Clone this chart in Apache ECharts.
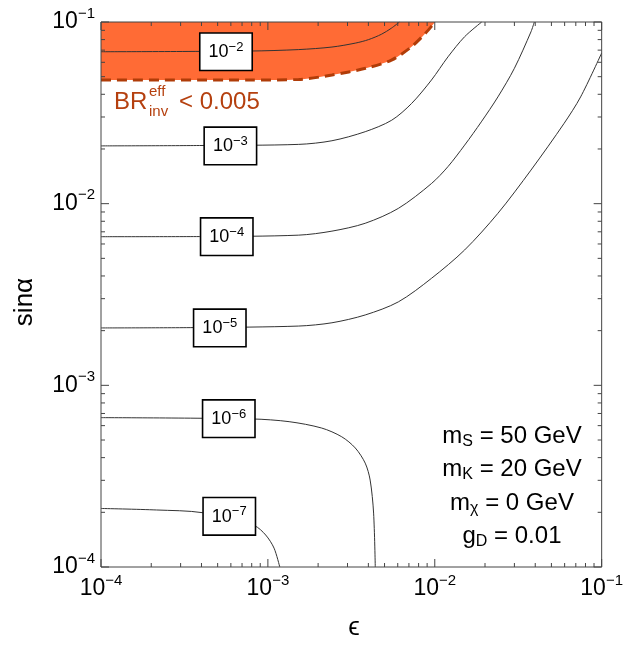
<!DOCTYPE html>
<html>
<head>
<meta charset="utf-8">
<script src="https://cdn.jsdelivr.net/npm/echarts@6/dist/echarts.min.js"></script>
<style>
html,body{margin:0;padding:0;background:#fff}
#chart{width:626px;height:645px}
</style>
</head>
<body>
<div id="chart"></div>
<script>
// 坐标轴范围与刻度
var axisMin = 1e-4, axisMax = 1e-1
var majorTicks = [1e-4, 1e-3, 1e-2, 1e-1]
var minorTicks = [2e-4, 3e-4, 4e-4, 5e-4, 6e-4, 7e-4, 8e-4, 9e-4,
  2e-3, 3e-3, 4e-3, 5e-3, 6e-3, 7e-3, 8e-3, 9e-3,
  2e-2, 3e-2, 4e-2, 5e-2, 6e-2, 7e-2, 8e-2, 9e-2]

// BR_inv^eff = 0.005 边界 (阴影区在其上方)
var bndEps = [1e-4, 7.73e-4, 1.53e-3, 2.42e-3, 3.85e-3, 5.50e-3, 7.23e-3, 8.77e-3, 1.005e-2]
var bndSin = [0.0479, 0.0479, 0.0483, 0.0511, 0.0556, 0.0617, 0.0729, 0.0865, 0.1]

// 等值线
var c2Eps = [1e-4, 7.73e-4, 1.53e-3, 2.42e-3, 3.36e-3, 4.01e-3, 4.80e-3, 5.50e-3, 6.14e-3]
var c2Sin = [0.0686, 0.0692, 0.0705, 0.0728, 0.0766, 0.0800, 0.0857, 0.0925, 0.1]
var c3Eps = [1e-4, 3.89e-4, 1.53e-3, 2.42e-3, 3.83e-3, 5.52e-3, 7.26e-3, 9.55e-3, 1.20e-2, 1.51e-2, 1.91e-2]
var c3Sin = [0.0208, 0.0209, 0.0212, 0.0222, 0.0249, 0.0288, 0.0356, 0.0479, 0.0643, 0.0830, 0.1]
var c4Eps = [1e-4, 3.89e-4, 1.53e-3, 2.42e-3, 3.83e-3, 6.05e-3, 9.55e-3, 1.20e-2, 1.51e-2, 1.90e-2, 2.39e-2, 3.00e-2, 3.77e-2, 3.95e-2]
var c4Sin = [0.00658, 0.00659, 0.00671, 0.00706, 0.00780, 0.00942, 0.0129, 0.0160, 0.0210, 0.0282, 0.0387, 0.0556, 0.0883, 0.1]
var c5Eps = [1e-4, 3.89e-4, 1.53e-3, 2.42e-3, 3.83e-3, 6.05e-3, 9.55e-3, 1.51e-2, 2.39e-2, 3.77e-2, 5.96e-2, 7.48e-2, 0.1]
var c5Sin = [0.00207, 0.00208, 0.00212, 0.00221, 0.00244, 0.00288, 0.00388, 0.00556, 0.00885, 0.0153, 0.0277, 0.0387, 0.0675]
var c6Eps = [1e-4, 8.05e-4, 1.34e-3, 2.10e-3, 2.77e-3, 3.34e-3, 3.83e-3, 4.10e-3, 4.30e-3, 4.40e-3]
var c6Sin = [6.64e-4, 6.53e-4, 6.31e-4, 5.82e-4, 5.21e-4, 4.52e-4, 3.73e-4, 3.01e-4, 1.98e-4, 1.0e-4]
var c7Eps = [1e-4, 2.15e-4, 4.07e-4, 8.28e-4, 9.70e-4, 1.089e-3, 1.178e-3]
var c7Sin = [2.10e-4, 2.06e-4, 1.99e-4, 1.69e-4, 1.50e-4, 1.27e-4, 1.0e-4]

// 等值线标签
var labelEps = [5.61e-4, 5.96e-4, 5.67e-4, 5.15e-4, 5.83e-4, 5.87e-4]
var labelSin = [0.0686, 0.0208, 0.00658, 0.00207, 6.55e-4, 1.90e-4]
var labelExp = [-2, -3, -4, -5, -6, -7]

var font = 'Liberation Sans, Arial, sans-serif'
var brColor = '#b5400f'

function pairs(xs, ys) {
  return xs.map(function (x, i) { return [x, ys[i]] })
}

function powLabel(v) {
  var e = Math.round(Math.log10(v))
  return '{b|10}{s|−' + Math.abs(e) + '}'
}

var tickRich = {
  b: { fontFamily: font, fontSize: 23, lineHeight: 32, color: '#000' },
  s: { fontFamily: font, fontSize: 15, lineHeight: 15, verticalAlign: 'top', color: '#000' }
}

// 四边刻度
var tickData = []
majorTicks.forEach(function (v) {
  tickData.push([v, 1e-3, 0, 8])
  tickData.push([1e-3, v, 1, 8])
})
minorTicks.forEach(function (v) {
  tickData.push([v, 1e-3, 0, 4])
  tickData.push([1e-3, v, 1, 4])
})

function tickItem(params, api) {
  var cs = params.coordSys
  var p = api.coord([api.value(0), api.value(1)])
  var len = api.value(3)
  var style = { stroke: '#444', lineWidth: 1 }
  if (api.value(2) === 0) {
    return { type: 'group', children: [
      { type: 'line', shape: { x1: p[0], y1: cs.y + cs.height, x2: p[0], y2: cs.y + cs.height - len }, style: style },
      { type: 'line', shape: { x1: p[0], y1: cs.y, x2: p[0], y2: cs.y + len }, style: style }
    ] }
  }
  return { type: 'group', children: [
    { type: 'line', shape: { x1: cs.x, y1: p[1], x2: cs.x + len, y2: p[1] }, style: style },
    { type: 'line', shape: { x1: cs.x + cs.width, y1: p[1], x2: cs.x + cs.width - len, y2: p[1] }, style: style }
  ] }
}

var contours = [
  [c2Eps, c2Sin], [c3Eps, c3Sin], [c4Eps, c4Sin],
  [c5Eps, c5Sin], [c6Eps, c6Sin], [c7Eps, c7Sin]
]

var series = []
series.push({
  type: 'line',
  data: pairs(bndEps, bndSin),
  showSymbol: false,
  smooth: 0.3,
  silent: true,
  lineStyle: { color: '#b03c08', width: 3, type: [10, 6] },
  areaStyle: { color: '#ff6b35', opacity: 1, origin: 'end' },
  z: 2
})
contours.forEach(function (c) {
  series.push({
    type: 'line',
    data: pairs(c[0], c[1]),
    showSymbol: false,
    smooth: 0.3,
    silent: true,
    lineStyle: { color: '#333', width: 1 },
    z: 3
  })
})
series.push({
  type: 'scatter',
  data: labelEps.map(function (x, i) { return [x, labelSin[i], labelExp[i]] }),
  symbolSize: 0,
  silent: true,
  z: 10,
  itemStyle: { opacity: 1 },
  label: {
    show: true,
    position: 'inside',
    opacity: 1,
    formatter: function (p) { return '{b|10}{s|−' + Math.abs(p.value[2]) + '}' },
    backgroundColor: '#fff',
    borderColor: '#000',
    borderWidth: 1.6,
    padding: [7, 8, 6, 8],
    rich: {
      b: { fontFamily: font, fontSize: 18, lineHeight: 23, color: '#000' },
      s: { fontFamily: font, fontSize: 13, lineHeight: 13, verticalAlign: 'top', color: '#000' }
    }
  }
})
series.push({
  type: 'custom',
  renderItem: tickItem,
  data: tickData,
  silent: true,
  clip: false,
  z: 20
})

var chart = echarts.init(document.getElementById('chart'))
chart.setOption({
  animation: false,
  backgroundColor: '#fff',
  grid: {
    left: 101, right: 22, top: 22, bottom: 78,
    show: true, borderColor: '#444', borderWidth: 1, backgroundColor: 'transparent', z: 30
  },
  xAxis: {
    type: 'log', logBase: 10, min: axisMin, max: axisMax,
    axisLine: { show: false }, axisTick: { show: false }, splitLine: { show: false },
    axisLabel: { formatter: powLabel, rich: tickRich, margin: 6, showMinLabel: true, showMaxLabel: true }
  },
  yAxis: {
    type: 'log', logBase: 10, min: axisMin, max: axisMax,
    axisLine: { show: false }, axisTick: { show: false }, splitLine: { show: false },
    axisLabel: { formatter: powLabel, rich: tickRich, margin: 6, showMinLabel: true, showMaxLabel: true }
  },
  series: series,
  graphic: [
    { type: 'text', x: 25, y: 302, rotation: Math.PI / 2,
      style: { text: 'sinα', font: '26px ' + font, fill: '#000', textAlign: 'center', textVerticalAlign: 'middle' } },
    { type: 'text', x: 354, y: 628,
      style: { text: 'ϵ', font: '26px Liberation Sans, DejaVu Sans, sans-serif', fill: '#000', textAlign: 'center', textVerticalAlign: 'middle' } },
    { type: 'text', x: 114, y: 102, z: 50,
      style: { text: 'BR', font: '24px ' + font, fill: brColor, textVerticalAlign: 'middle' } },
    { type: 'text', x: 149, y: 92, z: 50,
      style: { text: 'eff', font: '15px ' + font, fill: brColor, textVerticalAlign: 'middle' } },
    { type: 'text', x: 149, y: 112, z: 50,
      style: { text: 'inv', font: '15px ' + font, fill: brColor, textVerticalAlign: 'middle' } },
    { type: 'text', x: 179, y: 102, z: 50,
      style: { text: '< 0.005', font: '24px ' + font, fill: brColor, textVerticalAlign: 'middle' } }
  ].concat([
    ['{t|m}{u|S}{t| = 50 GeV}', 436],
    ['{t|m}{u|K}{t| = 20 GeV}', 469],
    ['{t|m}{u|χ}{t| = 0 GeV}', 503],
    ['{t|g}{u|D}{t| = 0.01}', 536]
  ].map(function (r) {
    return { type: 'text', x: 512, y: r[1], z: 50,
      style: {
        text: r[0], textAlign: 'center', textVerticalAlign: 'middle', fill: '#000',
        rich: {
          t: { fontFamily: font, fontSize: 24, lineHeight: 28, fill: '#000' },
          u: { fontFamily: font, fontSize: 16, lineHeight: 16, verticalAlign: 'bottom', fill: '#000' }
        }
      } }
  }))
})
</script>
</body>
</html>
